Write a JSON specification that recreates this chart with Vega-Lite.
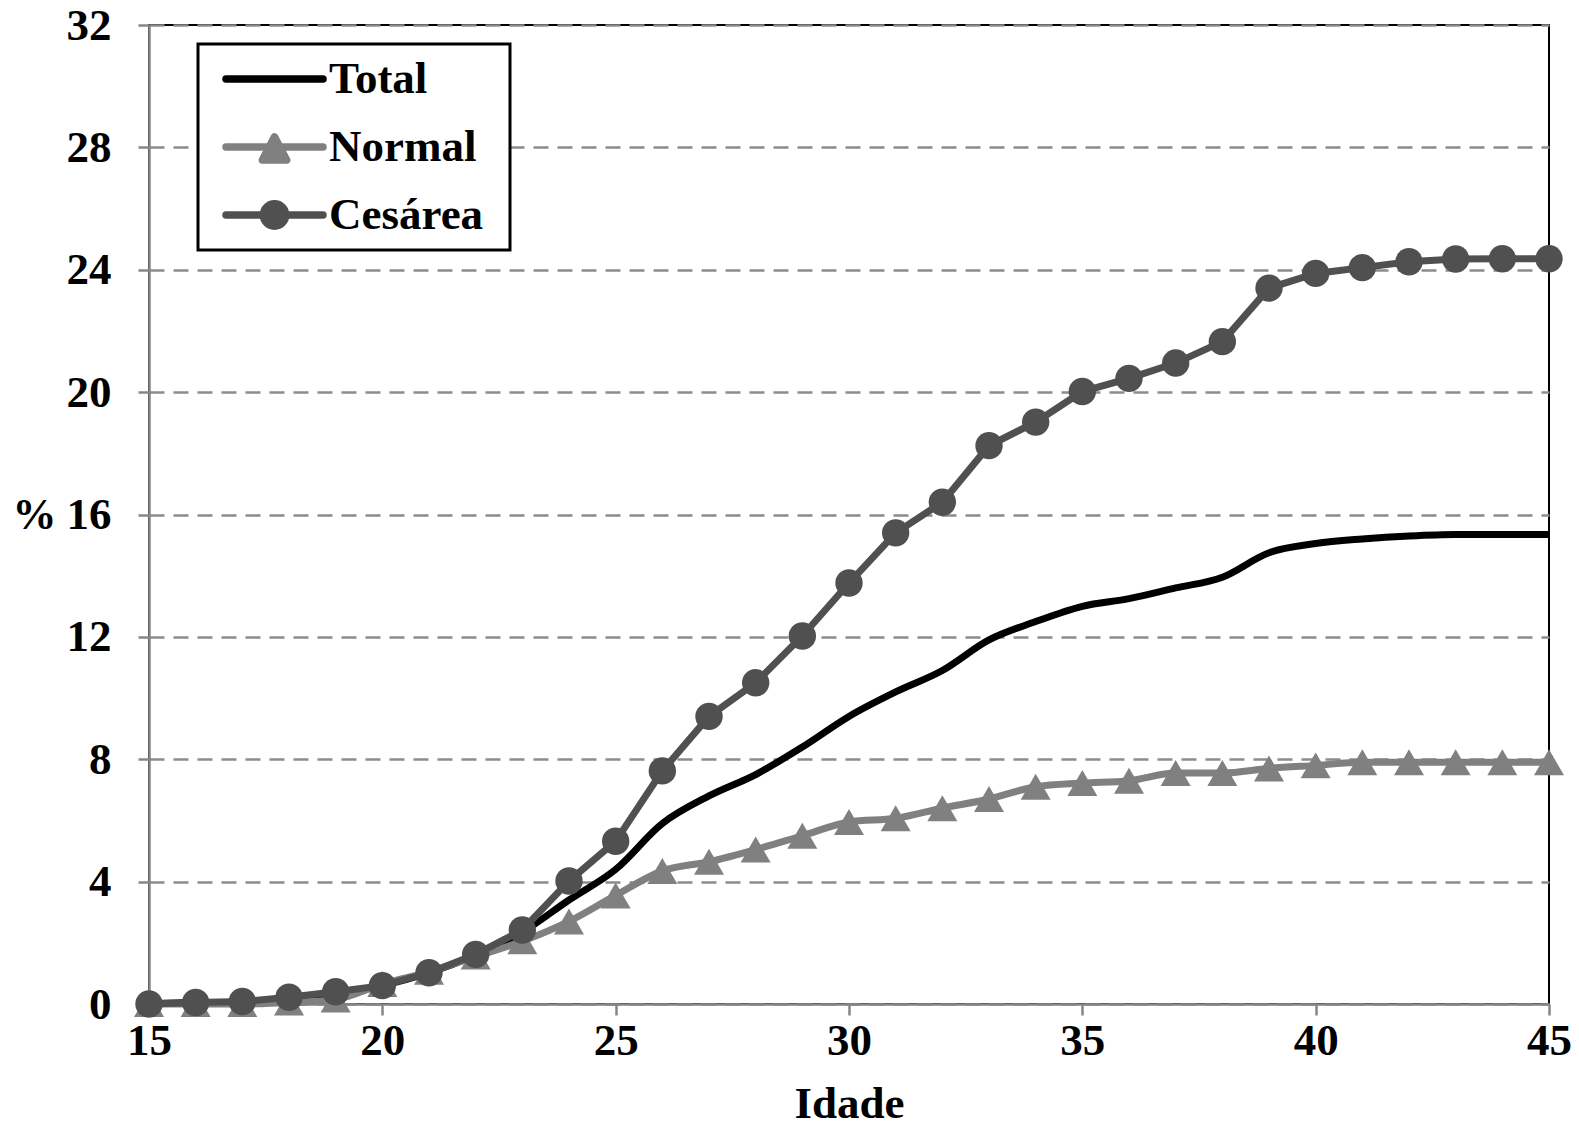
{
  "$schema": "https://vega.github.io/schema/vega-lite/v6.json",
  "width": 1400,
  "height": 979,
  "autosize": {"type": "none"},
  "padding": {"left": 149, "top": 25, "right": 30, "bottom": 124},
  "background": "white",
  "config": {"view": {"stroke": "black", "strokeWidth": 2}, "font": "Liberation Serif"},
  "data": {"values": [
    {"idade":15,"serie":"Total","valor":0},{"idade":16,"serie":"Total","valor":0.05},{"idade":17,"serie":"Total","valor":0.05},{"idade":18,"serie":"Total","valor":0.15},{"idade":19,"serie":"Total","valor":0.3},{"idade":20,"serie":"Total","valor":0.6},{"idade":21,"serie":"Total","valor":1.02},{"idade":22,"serie":"Total","valor":1.6},{"idade":23,"serie":"Total","valor":2.35},{"idade":24,"serie":"Total","valor":3.4},{"idade":25,"serie":"Total","valor":4.4},{"idade":26,"serie":"Total","valor":5.9},{"idade":27,"serie":"Total","valor":6.8},{"idade":28,"serie":"Total","valor":7.5},{"idade":29,"serie":"Total","valor":8.4},{"idade":30,"serie":"Total","valor":9.4},{"idade":31,"serie":"Total","valor":10.2},{"idade":32,"serie":"Total","valor":10.9},{"idade":33,"serie":"Total","valor":11.9},{"idade":34,"serie":"Total","valor":12.5},{"idade":35,"serie":"Total","valor":13.0},{"idade":36,"serie":"Total","valor":13.25},{"idade":37,"serie":"Total","valor":13.6},{"idade":38,"serie":"Total","valor":13.95},{"idade":39,"serie":"Total","valor":14.75},{"idade":40,"serie":"Total","valor":15.05},{"idade":41,"serie":"Total","valor":15.2},{"idade":42,"serie":"Total","valor":15.3},{"idade":43,"serie":"Total","valor":15.35},{"idade":44,"serie":"Total","valor":15.35},{"idade":45,"serie":"Total","valor":15.35},
    {"idade":15,"serie":"Normal","valor":0},{"idade":16,"serie":"Normal","valor":0},{"idade":17,"serie":"Normal","valor":0},{"idade":18,"serie":"Normal","valor":0.05},{"idade":19,"serie":"Normal","valor":0.15},{"idade":20,"serie":"Normal","valor":0.65},{"idade":21,"serie":"Normal","valor":1.05},{"idade":22,"serie":"Normal","valor":1.55},{"idade":23,"serie":"Normal","valor":2.05},{"idade":24,"serie":"Normal","valor":2.7},{"idade":25,"serie":"Normal","valor":3.55},{"idade":26,"serie":"Normal","valor":4.35},{"idade":27,"serie":"Normal","valor":4.65},{"idade":28,"serie":"Normal","valor":5.05},{"idade":29,"serie":"Normal","valor":5.5},{"idade":30,"serie":"Normal","valor":5.95},{"idade":31,"serie":"Normal","valor":6.07},{"idade":32,"serie":"Normal","valor":6.4},{"idade":33,"serie":"Normal","valor":6.7},{"idade":34,"serie":"Normal","valor":7.1},{"idade":35,"serie":"Normal","valor":7.22},{"idade":36,"serie":"Normal","valor":7.3},{"idade":37,"serie":"Normal","valor":7.55},{"idade":38,"serie":"Normal","valor":7.55},{"idade":39,"serie":"Normal","valor":7.7},{"idade":40,"serie":"Normal","valor":7.8},{"idade":41,"serie":"Normal","valor":7.9},{"idade":42,"serie":"Normal","valor":7.9},{"idade":43,"serie":"Normal","valor":7.9},{"idade":44,"serie":"Normal","valor":7.9},{"idade":45,"serie":"Normal","valor":7.9},
    {"idade":15,"serie":"Cesárea","valor":0},{"idade":16,"serie":"Cesárea","valor":0.05},{"idade":17,"serie":"Cesárea","valor":0.08},{"idade":18,"serie":"Cesárea","valor":0.22},{"idade":19,"serie":"Cesárea","valor":0.4},{"idade":20,"serie":"Cesárea","valor":0.6},{"idade":21,"serie":"Cesárea","valor":1.02},{"idade":22,"serie":"Cesárea","valor":1.62},{"idade":23,"serie":"Cesárea","valor":2.42},{"idade":24,"serie":"Cesárea","valor":4.02},{"idade":25,"serie":"Cesárea","valor":5.32},{"idade":26,"serie":"Cesárea","valor":7.62},{"idade":27,"serie":"Cesárea","valor":9.4},{"idade":28,"serie":"Cesárea","valor":10.5},{"idade":29,"serie":"Cesárea","valor":12.03},{"idade":30,"serie":"Cesárea","valor":13.76},{"idade":31,"serie":"Cesárea","valor":15.4},{"idade":32,"serie":"Cesárea","valor":16.4},{"idade":33,"serie":"Cesárea","valor":18.25},{"idade":34,"serie":"Cesárea","valor":19.02},{"idade":35,"serie":"Cesárea","valor":20.02},{"idade":36,"serie":"Cesárea","valor":20.45},{"idade":37,"serie":"Cesárea","valor":20.95},{"idade":38,"serie":"Cesárea","valor":21.65},{"idade":39,"serie":"Cesárea","valor":23.4},{"idade":40,"serie":"Cesárea","valor":23.88},{"idade":41,"serie":"Cesárea","valor":24.07},{"idade":42,"serie":"Cesárea","valor":24.26},{"idade":43,"serie":"Cesárea","valor":24.35},{"idade":44,"serie":"Cesárea","valor":24.36},{"idade":45,"serie":"Cesárea","valor":24.36}
  ]},
  "encoding": {
    "x": {
      "field": "idade", "type": "quantitative",
      "scale": {"domain": [15, 45], "nice": false, "zero": false},
      "axis": {
        "values": [15, 20, 25, 30, 35, 40, 45],
        "title": "Idade", "titleFont": "Liberation Serif", "titleFontSize": 45, "titleFontWeight": "bold", "titleColor": "black",
        "titleY": 113, "titleBaseline": "alphabetic",
        "labelFont": "Liberation Serif", "labelFontSize": 45, "labelFontWeight": "bold", "labelColor": "black",
        "labelFlush": false, "labelPadding": 3, "labelOverlap": false,
        "tickSize": 11, "tickColor": "#868686", "tickWidth": 2.5,
        "domainColor": "#868686", "domainWidth": 2.5, "grid": false
      }
    },
    "y": {
      "field": "valor", "type": "quantitative",
      "scale": {"domain": [0, 32], "nice": false},
      "axis": {
        "values": [0, 4, 8, 12, 16, 20, 24, 28, 32],
        "title": "%", "titleAngle": 0, "titleX": -115, "titleY": 490, "titleAlign": "center", "titleBaseline": "middle",
        "titleFont": "Liberation Serif", "titleFontSize": 44, "titleFontWeight": "bold", "titleColor": "black",
        "labelFont": "Liberation Serif", "labelFontSize": 45, "labelFontWeight": "bold", "labelColor": "black",
        "labelPadding": 27, "labelOverlap": false,
        "tickSize": 11, "tickColor": "#868686", "tickWidth": 2.5,
        "domainColor": "#868686", "domainWidth": 2.5,
        "grid": true, "gridColor": "#8c8c8c", "gridDash": [15, 9], "gridWidth": 2.5
      }
    },
    "color": {
      "field": "serie", "type": "nominal",
      "scale": {"domain": ["Total", "Normal", "Cesárea"], "range": ["#000000", "#808080", "#505050"]},
      "legend": {
        "title": null, "orient": "none", "legendX": 49, "legendY": 19,
        "strokeColor": "black", "fillColor": "white", "padding": 2,
        "labelFont": "Liberation Serif", "labelFontSize": 45, "labelFontWeight": "bold", "labelColor": "black",
        "labelOffset": 2, "symbolOffset": 22, "clipHeight": 66, "rowPadding": 2, "labelLimit": 400,
        "encode": {
          "legend": {"update": {"strokeWidth": {"value": 3}}},
          "entries": {"update": {"width": {"value": 308}}},
          "symbols": {"update": {
            "shape": {"signal": "datum.value === 'Total' ? 'M-1,0H1' : datum.value === 'Normal' ? 'M-1,0H1M0,-0.21L0.25,0.27L-0.25,0.27Z' : 'M-1,0H1M0.23,0A0.23,0.23,0,1,1,-0.23,0A0.23,0.23,0,1,1,0.23,0Z'"},
            "size": {"value": 9409},
            "fill": {"signal": "datum.value === 'Total' ? 'transparent' : datum.value === 'Normal' ? '#808080' : '#505050'"},
            "stroke": {"signal": "datum.value === 'Total' ? '#000000' : datum.value === 'Normal' ? '#808080' : '#505050'"},
            "strokeWidth": {"value": 7.5},
            "strokeCap": {"value": "round"},
            "strokeJoin": {"value": "round"},
            "opacity": {"value": 1}
          }}
        }
      }
    }
  },
  "layer": [
    {"transform": [{"filter": "datum.serie === 'Total'"}], "mark": {"type": "line", "strokeWidth": 7, "interpolate": "monotone"}},
    {"transform": [{"filter": "datum.serie === 'Normal'"}], "mark": {"type": "line", "strokeWidth": 7, "interpolate": "monotone"}},
    {"transform": [{"filter": "datum.serie === 'Normal'"}], "mark": {"type": "point", "shape": "triangle-up", "filled": true, "size": 900, "opacity": 1}},
    {"transform": [{"filter": "datum.serie === 'Cesárea'"}], "mark": {"type": "line", "strokeWidth": 7}},
    {"transform": [{"filter": "datum.serie === 'Cesárea'"}], "mark": {"type": "point", "shape": "circle", "filled": true, "size": 750, "opacity": 1}}
  ]
}
